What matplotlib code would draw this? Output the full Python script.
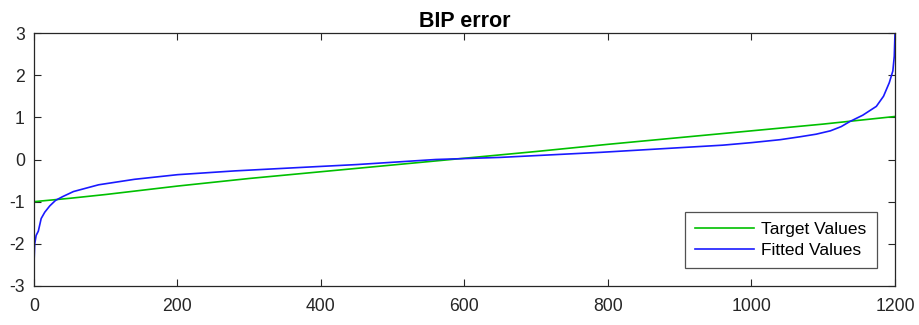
import matplotlib
matplotlib.use("Agg")
import matplotlib.pyplot as plt
import numpy as np

plt.rcParams['font.family'] = ['Liberation Sans', 'DejaVu Sans']
plt.rcParams['axes.unicode_minus'] = False

target_x = [0, 50, 100, 200, 300, 400, 500, 600, 700, 800, 900, 1000, 1100, 1200]
target_y = [-1.0, -0.92, -0.83, -0.63, -0.45, -0.29, -0.13, 0.03, 0.19, 0.36, 0.52, 0.68, 0.84, 1.02]

fitted_x = [0, 1, 3, 6, 10, 15, 22, 30, 40, 55, 90, 140, 200, 280, 370, 450, 560, 650,
            790, 900, 960, 1000, 1040, 1068, 1090, 1110, 1125, 1137, 1155, 1174, 1184,
            1192, 1197, 1199, 1200]
fitted_y = [-2.45, -2.0, -1.8, -1.7, -1.4, -1.25, -1.1, -0.97, -0.88, -0.76, -0.6, -0.47,
            -0.36, -0.27, -0.19, -0.12, 0.0, 0.05, 0.17, 0.28, 0.34, 0.4, 0.47, 0.54, 0.6,
            0.68, 0.78, 0.9, 1.05, 1.26, 1.5, 1.82, 2.1, 2.45, 3.0]

fig = plt.figure(figsize=(9.2, 3.25), dpi=100)
ax = fig.add_axes([34/920, 39/325, (895-34)/920, (286-33)/325])
ax.plot(target_x, target_y, color='#00c000', lw=1.2, label='Target Values')
ax.plot(fitted_x, fitted_y, color='#1a1aff', lw=1.2, label='Fitted Values')
ax.set_xlim(0, 1200)
ax.set_ylim(-3, 3)
ax.set_xticks([0, 200, 400, 600, 800, 1000, 1200])
ax.set_yticks([-3, -2, -1, 0, 1, 2, 3])
ax.tick_params(direction='in', top=True, right=True, length=5, width=0.8,
               colors='#262626', labelsize=12.7)
ax.tick_params(axis='x', pad=8.3)
ax.tick_params(axis='y', pad=6.5)
for s in ax.spines.values():
    s.set_color('#262626')
    s.set_linewidth(0.9)
ax.set_title('BIP error', fontsize=15.5, fontweight='bold', color='black', pad=4.5)
leg = ax.legend(loc='lower right', fontsize=12.5, frameon=True, fancybox=False,
                edgecolor='#262626', handlelength=3.4, borderpad=0.6,
                labelspacing=0.3, handletextpad=0.4, borderaxespad=0)
leg.set_bbox_to_anchor(((877-34)/861, (286-268)/253), transform=ax.transAxes)
leg.get_frame().set_linewidth(0.9)
fig.savefig('out.png', dpi=100)
